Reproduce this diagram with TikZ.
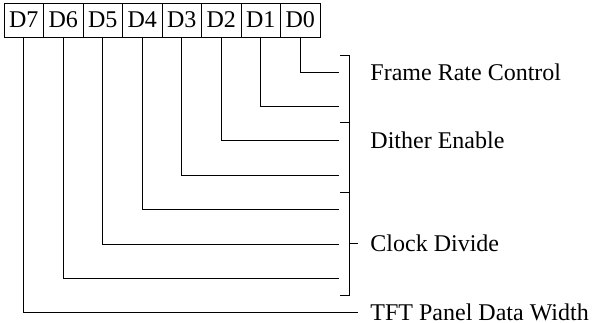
\documentclass[tikz,border=0pt]{standalone}
\usepackage{fontspec}
\setmainfont{Liberation Serif}
\usetikzlibrary{positioning}
\tikzset{
  bitbox/.style={draw, minimum width=39.5pt, minimum height=34pt,
    inner sep=0pt, outer sep=0pt},
  fieldlabel/.style={anchor=west, inner sep=0pt},
}

\begin{document}
\begin{tikzpicture}[x=1pt,y=-1pt,line width=0.9pt,font=\fontsize{24}{28}\selectfont]
  \useasboundingbox (0,0) rectangle (596,323);
  % register bits
  \node[bitbox] (d7) at (23.75,20) {D7};
  \foreach \b [remember=\b as \lastb (initially 7)] in {6,...,0} {
    \node[bitbox, right=0pt of d\lastb] (d\b) {D\b};
  }
  % bit lines
  \foreach \b in {0,...,6} {
    \coordinate (e\b) at (339,72+34.4*\b);
    \draw (d\b.south) |- (e\b);
  }
  \coordinate (e7) at (358,312.8);
  \draw (d7.south) |- (e7);
  % bracket
  \coordinate (brtop) at (349,55);
  \coordinate (brbot) at (349,295);
  \draw ([xshift=-9pt]brtop) -- (brtop) -- (brbot) -- ([xshift=-9pt]brbot);
  \foreach \y in {122.5,192} {\draw (340,\y) -- (349,\y);}
  \coordinate (clk) at (349,243);
  \draw (clk) -- ++(9,0);
  % field names
  \node[fieldlabel] (frc) at (370,72) {Frame Rate Control};
  \node[fieldlabel] (dith) at (370,140.5) {Dither Enable};
  \node[fieldlabel] (clkdiv) at (370,243) {Clock Divide};
  \node[fieldlabel] (tft) at (370,312.8) {TFT Panel Data Width};
\end{tikzpicture}
\end{document}
